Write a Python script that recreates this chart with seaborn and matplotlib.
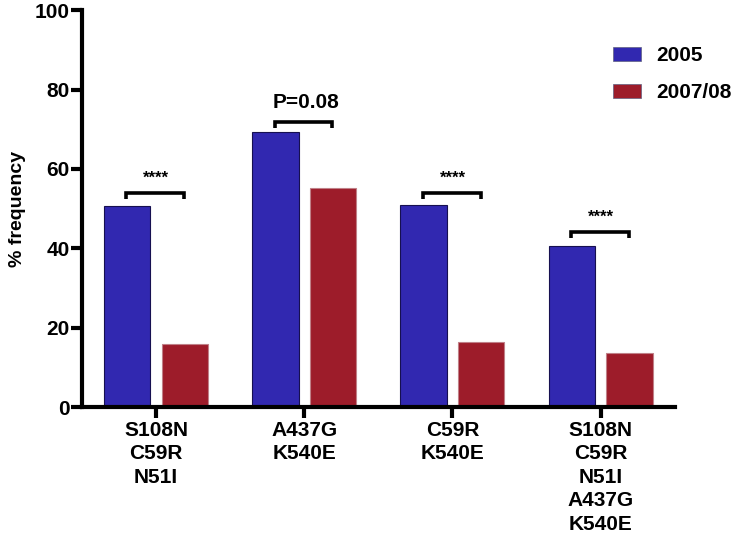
import pandas as pd
import matplotlib.pyplot as plt
import seaborn as sns

# Data
combos = ["S108N\nC59R\nN51I", "A437G\nK540E", "C59R\nK540E",
          "S108N\nC59R\nN51I\nA437G\nK540E"]
freq_2005 = [50.7, 69.2, 51.0, 40.6]
freq_2007 = [15.9, 55.3, 16.5, 13.5]
years = ["2005", "2007/08"]
signif = ["****", "P=0.08", "****", "****"]
bracket_y = [54.0, 71.8, 54.0, 44.2]

df = pd.DataFrame({
    "combo": combos * 2,
    "freq": freq_2005 + freq_2007,
    "year": [years[0]] * 4 + [years[1]] * 4,
})

sns.set_style("ticks")
plt.rcParams["font.family"] = ["Liberation Sans", "DejaVu Sans"]
plt.rcParams["font.weight"] = "bold"
for k in ["text.color", "axes.labelcolor", "xtick.color", "ytick.color",
          "axes.edgecolor"]:
    plt.rcParams[k] = "black"

fig = plt.figure(figsize=(7.35, 5.37), dpi=100)
ax = fig.add_axes([0.1116, 0.242, 0.8064, 0.739])

colors = {"2005": "#3128B0", "2007/08": "#9D1C2A"}
sns.barplot(data=df, x="combo", y="freq", hue="year", palette=colors,
            width=0.78, gap=0.2, saturation=1, ax=ax)
for bar, c in zip(ax.patches[:8], ["#161050"] * 4 + ["#c08088"] * 4):
    bar.set_edgecolor(c)
    bar.set_linewidth(0.8)

# significance brackets
for i, (txt, y) in enumerate(zip(signif, bracket_y)):
    x0, x1 = i - 0.2, i + 0.19
    ax.plot([x0, x0, x1, x1], [y - 1.6, y, y, y - 1.6], color="black",
            lw=2.6, solid_capstyle="butt", solid_joinstyle="miter")
    if txt.startswith("*"):
        ax.text(i, y + 1.8, txt, ha="center", va="bottom", fontsize=12,
                fontweight="bold")
    else:
        ax.text(i + 0.01, y + 2.6, txt, ha="center", va="bottom",
                fontsize=15, fontweight="bold")

ax.set_xlim(-0.5, 3.5)
ax.set_ylim(0, 100)
ax.set_yticks([0, 20, 40, 60, 80, 100])
ax.set_xlabel("")
ax.set_ylabel("% frequency", fontsize=14, fontweight="bold", labelpad=6)
sns.despine(ax=ax)
for s in ["left", "bottom"]:
    ax.spines[s].set_linewidth(3)
ax.tick_params(axis="both", width=3, length=8, labelsize=15)
ax.tick_params(axis="y", pad=1)
ax.tick_params(axis="x", pad=2)
for lab in ax.get_xticklabels() + ax.get_yticklabels():
    lab.set_fontweight("bold")
    lab.set_linespacing(1.3)

ax.get_legend().remove()
handles = [plt.Rectangle((0, 0), 1, 1, facecolor=colors[y],
                         edgecolor="#606080", lw=0.5) for y in years]
leg = ax.legend(handles, years, loc="upper left", bbox_to_anchor=(0.881, 0.93),
                frameon=False, fontsize=15, handlelength=1.35, handleheight=0.63,
                handletextpad=0.75, labelspacing=0.85, borderaxespad=0)
for t in leg.get_texts():
    t.set_fontweight("bold")

fig.savefig("out.png", dpi=100)
